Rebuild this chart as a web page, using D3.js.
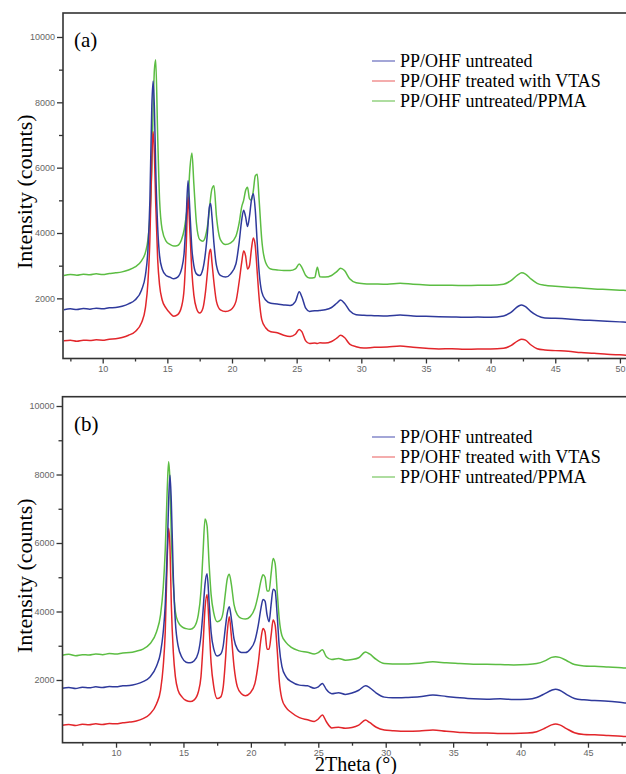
<!DOCTYPE html>
<html>
<head>
<meta charset="utf-8">
<script src="https://cdn.jsdelivr.net/npm/d3@7"></script>
<style>
  body { margin: 0; background: #fff; }
  svg { display: block; }
</style>
</head>
<body>
<div id="chart"></div>
<script>
// Series names, shared by both panels
let seriesNames = ["PP/OHF untreated", "PP/OHF treated with VTAS", "PP/OHF untreated/PPMA"];

// Panel (a): 2Theta grid and intensities
let xA = [7, 7.5, 8, 8.5, 9, 9.5, 10, 10.5, 11, 11.5,
  12, 12.5, 13, 13.3, 13.5, 13.65, 13.8, 13.9, 14.0, 14.1,
  14.25, 14.4, 14.6, 14.9, 15.2, 15.5, 15.8, 16.1, 16.3, 16.45,
  16.6, 16.75, 16.9, 17.05, 17.25, 17.5, 17.75, 17.95, 18.1, 18.25,
  18.35, 18.45, 18.6, 18.8, 19.1, 19.5, 19.9, 20.3, 20.55, 20.75,
  20.9, 21.05, 21.2, 21.35, 21.5, 21.65, 21.8, 21.95, 22.1, 22.3,
  22.6, 23.0, 23.5, 24.0, 24.5, 24.9, 25.2, 25.4, 25.7, 26.0,
  26.4, 26.6, 26.8, 27.2, 27.7, 28.1, 28.4, 28.7, 29.1, 29.6,
  30.2, 31, 32, 33, 34, 35, 36, 37, 38, 39,
  40, 41, 41.6, 42.1, 42.4, 42.7, 43.1, 43.6, 44.2, 45,
  46, 47, 48, 49, 50, 50.5];

let blueA = [1650, 1680, 1660, 1690, 1670, 1700, 1680, 1710, 1720, 1760,
  1830, 1950, 2250, 2700, 3500, 5000, 7900, 8650, 7800, 6000,
  4200, 3300, 2900, 2700, 2650, 2600, 2650, 2900, 3400, 4400,
  5600, 4600, 3500, 3000, 2750, 2700, 2900, 3400, 4000, 4800,
  4900, 4500, 3700, 3000, 2700, 2650, 2750, 3050, 3700, 4400,
  4700, 4500, 4200, 4500, 5000, 5200, 4700, 3700, 2800, 2200,
  1950, 1850, 1830, 1800, 1780, 1900, 2200, 2050, 1700, 1600,
  1620, 1620, 1630, 1650, 1720, 1850, 1950, 1850, 1620, 1500,
  1480, 1470, 1460, 1490, 1460, 1450, 1440, 1430, 1420, 1430,
  1420, 1460, 1580, 1750, 1800, 1750, 1600, 1470, 1400, 1390,
  1370, 1340, 1320, 1300, 1280, 1270];

let redA = [700, 720, 690, 720, 710, 730, 720, 750, 760, 800,
  870, 980, 1250, 1700, 2500, 3800, 6300, 7100, 6400, 4900,
  3200, 2400, 1950, 1700, 1550, 1450, 1500, 1750, 2300, 3500,
  5100, 4000, 2800, 2100, 1700, 1550, 1700, 2200, 2800, 3400,
  3500, 3100, 2500, 1900, 1650, 1600, 1650, 1900, 2500, 3100,
  3450, 3300, 2900, 3000, 3500, 3850, 3600, 2800, 2000, 1350,
  1100, 980, 950, 870, 830, 900, 1050, 980, 700, 620,
  630, 620, 640, 630, 680, 780, 870, 800, 600, 520,
  480, 500, 510, 540, 500, 470, 450, 460, 440, 450,
  450, 470, 560, 700, 750, 720, 580, 460, 420, 400,
  380, 340, 320, 290, 270, 260];

let greenA = [2700, 2730, 2710, 2740, 2720, 2750, 2730, 2760, 2780, 2810,
  2870, 2960, 3150, 3400, 3800, 4500, 6000, 7800, 9000, 9300,
  7000, 5000, 4100, 3750, 3650, 3600, 3620, 3800, 4100, 4500,
  5000, 6000, 6450, 5500, 4300, 3800, 3750, 3900, 4200, 4700,
  5100, 5350, 5450, 4500, 3800, 3650, 3700, 3900, 4300, 4800,
  5000, 5300, 5400, 5050, 5000, 5300, 5750, 5800, 5000, 3800,
  3100, 2900, 2870, 2850, 2850, 2900, 3050, 2950, 2700, 2620,
  2640, 2950, 2660, 2650, 2700, 2820, 2920, 2850, 2600, 2480,
  2450, 2440, 2430, 2460, 2430, 2410, 2400, 2400, 2390, 2400,
  2400, 2430, 2550, 2720, 2780, 2740, 2600, 2460, 2400, 2370,
  2340, 2320, 2290, 2270, 2250, 2240];

// Panel (b)
let xB = [6, 6.5, 7, 7.5, 8, 8.5, 9, 9.5, 10, 10.5,
  11, 11.5, 12, 12.5, 13, 13.3, 13.5, 13.65, 13.8, 13.9,
  14.0, 14.1, 14.25, 14.4, 14.6, 14.9, 15.2, 15.5, 15.8, 16.1,
  16.3, 16.45, 16.6, 16.75, 16.9, 17.05, 17.25, 17.5, 17.75, 17.95,
  18.1, 18.25, 18.4, 18.55, 18.75, 19.0, 19.3, 19.6, 19.95, 20.3,
  20.55, 20.75, 20.9, 21.05, 21.2, 21.35, 21.5, 21.65, 21.8, 21.95,
  22.1, 22.3, 22.6, 23.0, 23.6, 24.2, 24.7, 25.0, 25.3, 25.6,
  26.0, 26.5, 27.0, 27.5, 28.0, 28.5, 28.8, 29.3, 29.9, 30.5,
  31.5, 32.5, 33.5, 34.5, 35.5, 36.5, 37.5, 38.5, 39.5, 40.5,
  41.2, 41.8, 42.3, 42.6, 42.9, 43.4, 44, 44.7, 45.5, 46.5,
  47.5, 48];

let blueB = [1760, 1780, 1750, 1790, 1770, 1800, 1780, 1810, 1800, 1830,
  1840, 1880, 1950, 2080, 2400, 2800, 3400, 4200, 5800, 7200,
  7980, 7200, 5000, 3700, 3000, 2650, 2520, 2500, 2560, 2800,
  3300, 4000, 4800, 5100, 4300, 3400, 2900, 2700, 2750, 3000,
  3500, 3950, 4140, 3800, 3200, 2900, 2800, 2800, 2900, 3150,
  3600, 4100, 4350, 4300, 3900, 3700, 4200, 4650, 4600, 3900,
  3000, 2400, 2100, 1950, 1850, 1830, 1760, 1800, 1900, 1720,
  1600, 1630, 1580, 1620, 1700, 1830, 1780, 1620, 1500, 1480,
  1490, 1510, 1560, 1520, 1480, 1450, 1440, 1450, 1430, 1440,
  1490, 1600, 1700, 1730, 1700, 1580, 1460, 1420, 1400, 1380,
  1340, 1320];

let redB = [680, 700, 670, 710, 690, 720, 700, 730, 720, 750,
  770, 800, 870, 1000, 1300, 1700, 2400, 3400, 5600, 6430,
  5900, 4200, 2800, 2100, 1700, 1500, 1400, 1370, 1420, 1650,
  2100, 3000, 4100, 4500, 3600, 2500, 1800, 1460, 1500, 1800,
  2500, 3400, 3850, 3300, 2400, 1800, 1600, 1540, 1620, 1900,
  2500, 3200, 3500, 3400, 2900, 2900, 3300, 3750, 3600, 2900,
  2000, 1450, 1200, 1050, 900, 840, 790, 860, 980, 780,
  600, 620, 590, 610, 680, 830, 760, 620, 540, 520,
  500, 510, 540, 500, 470, 450, 450, 440, 440, 450,
  490, 590, 690, 715, 690, 580, 460, 410, 400, 380,
  360, 340];

let greenB = [2720, 2750, 2710, 2740, 2730, 2760, 2740, 2770, 2760, 2790,
  2800, 2840, 2900, 3050, 3400, 3900, 4700, 5800, 7600, 8370,
  7800, 6200, 4800, 4000, 3700, 3550, 3500, 3480, 3550, 3900,
  4600, 5700, 6700, 6500, 5400, 4500, 3950, 3700, 3750, 4000,
  4500, 4950, 5090, 4800, 4200, 3900, 3800, 3780, 3850, 4100,
  4500, 4900, 5070, 5000, 4600, 4600, 5100, 5550, 5400, 4600,
  3800, 3300, 3100, 2950, 2850, 2810, 2760, 2800, 2880, 2680,
  2600, 2630, 2580, 2600, 2650, 2820, 2760, 2600, 2480, 2470,
  2470, 2490, 2530, 2500, 2480, 2460, 2460, 2450, 2440, 2450,
  2480, 2560, 2660, 2680, 2660, 2570, 2450, 2410, 2400, 2380,
  2360, 2340];

// Tick values
let xMajorA = [10, 15, 20, 25, 30, 35, 40, 45, 50];
let xMajorB = [10, 15, 20, 25, 30, 35, 40, 45];
let xMinor = [7.5, 12.5, 17.5, 22.5, 27.5, 32.5, 37.5, 42.5, 47.5];
let yMajor = [2000, 4000, 6000, 8000, 10000];
let yMinor = [1000, 3000, 5000, 7000, 9000];

let svgWidth = 626;
let svgHeight = 774;

let lineColors = ["#2f3a9c", "#e2262b", "#5cbd43"];
let legendColors = ["#7c80c6", "#f08a8a", "#8ccf78"];
let serif = "'Liberation Serif', 'Times New Roman', serif";
let sans = "'Liberation Sans Narrow', 'Liberation Sans', Arial, sans-serif";

let svg = d3.select("#chart")
  .append("svg")
  .attr("width", svgWidth)
  .attr("height", svgHeight);

let panels = [
  { id: "a", label: "(a)", xs: xA, ys: [blueA, redA, greenA], xMajor: xMajorA,
    left: 63, top: 13, bottom: 358.5, xDomain: [6.93, 50.47], yDomain: [159, 10734], legendY: 61 },
  { id: "b", label: "(b)", xs: xB, ys: [blueB, redB, greenB], xMajor: xMajorB,
    left: 62.5, top: 396.7, bottom: 742.7, xDomain: [6.03, 47.82], yDomain: [169, 10272], legendY: 437 }
];

panels.forEach(function(p) {
  let x = d3.scaleLinear().domain(p.xDomain).range([p.left, svgWidth]);
  let y = d3.scaleLinear().domain(p.yDomain).range([p.bottom, p.top]);
  let g = svg.append("g");

  g.append("clipPath")
    .attr("id", "clip-" + p.id)
    .append("rect")
    .attr("x", p.left)
    .attr("y", p.top)
    .attr("width", svgWidth - p.left)
    .attr("height", p.bottom - p.top);

  // curves: green, red, then blue on top
  let line = d3.line()
    .x(d => x(d[0]))
    .y(d => y(d[1]))
    .curve(d3.curveMonotoneX);

  [2, 1, 0].forEach(function(i) {
    let pts = p.xs.map((v, k) => [v, p.ys[i][k]]);
    g.append("path")
      .datum(pts)
      .attr("clip-path", "url(#clip-" + p.id + ")")
      .attr("fill", "none")
      .attr("stroke", lineColors[i])
      .attr("stroke-width", 1.5)
      .attr("stroke-linejoin", "round")
      .attr("d", line);
  });

  // frame
  g.append("rect")
    .attr("x", p.left)
    .attr("y", p.top)
    .attr("width", svgWidth + 10 - p.left)
    .attr("height", p.bottom - p.top)
    .attr("fill", "none")
    .attr("stroke", "#333")
    .attr("stroke-width", 1.6);

  // x axis
  let xMin = g.append("g")
    .attr("transform", `translate(0, ${p.bottom})`)
    .call(d3.axisBottom(x).tickValues(xMinor).tickSize(3).tickFormat(""));
  let xMaj = g.append("g")
    .attr("transform", `translate(0, ${p.bottom})`)
    .call(d3.axisBottom(x).tickValues(p.xMajor).tickSize(5).tickPadding(2).tickFormat(d3.format("d")));

  // y axis
  let yMin = g.append("g")
    .attr("transform", `translate(${p.left}, 0)`)
    .call(d3.axisLeft(y).tickValues(yMinor).tickSize(4).tickFormat(""));
  let yMaj = g.append("g")
    .attr("transform", `translate(${p.left}, 0)`)
    .call(d3.axisLeft(y).tickValues(yMajor).tickSize(6).tickPadding(2).tickFormat(d3.format("d")));

  [xMin, xMaj, yMin, yMaj].forEach(function(a) {
    a.select(".domain").remove();
    a.selectAll("line").attr("stroke", "#333").attr("stroke-width", 1.3);
    a.selectAll("text")
      .style("font-family", sans)
      .style("font-size", "9px")
      .attr("fill", "#666");
  });

  // panel label
  g.append("text")
    .attr("x", 74)
    .attr("y", p.top + 34)
    .style("font-family", serif)
    .style("font-size", "21px")
    .text(p.label);

  // legend
  seriesNames.forEach(function(name, i) {
    let ly = p.legendY + i * 20;
    g.append("line")
      .attr("x1", 372).attr("x2", 395)
      .attr("y1", ly).attr("y2", ly)
      .attr("stroke", legendColors[i])
      .attr("stroke-width", 1.4);
    g.append("text")
      .attr("x", 400)
      .attr("y", ly + 6)
      .style("font-family", serif)
      .style("font-size", "18px")
      .text(name);
  });

  // y title
  let cy = (p.top + p.bottom) / 2;
  g.append("text")
    .attr("transform", `translate(32, ${cy + 6}) rotate(-90)`)
    .attr("text-anchor", "middle")
    .style("font-family", serif)
    .style("font-size", "22px")
    .text("Intensity (counts)");
});

svg.append("text")
  .attr("x", 356)
  .attr("y", 771)
  .attr("text-anchor", "middle")
  .style("font-family", serif)
  .style("font-size", "20px")
  .text("2Theta (\u00b0)");
</script>
</body>
</html>
